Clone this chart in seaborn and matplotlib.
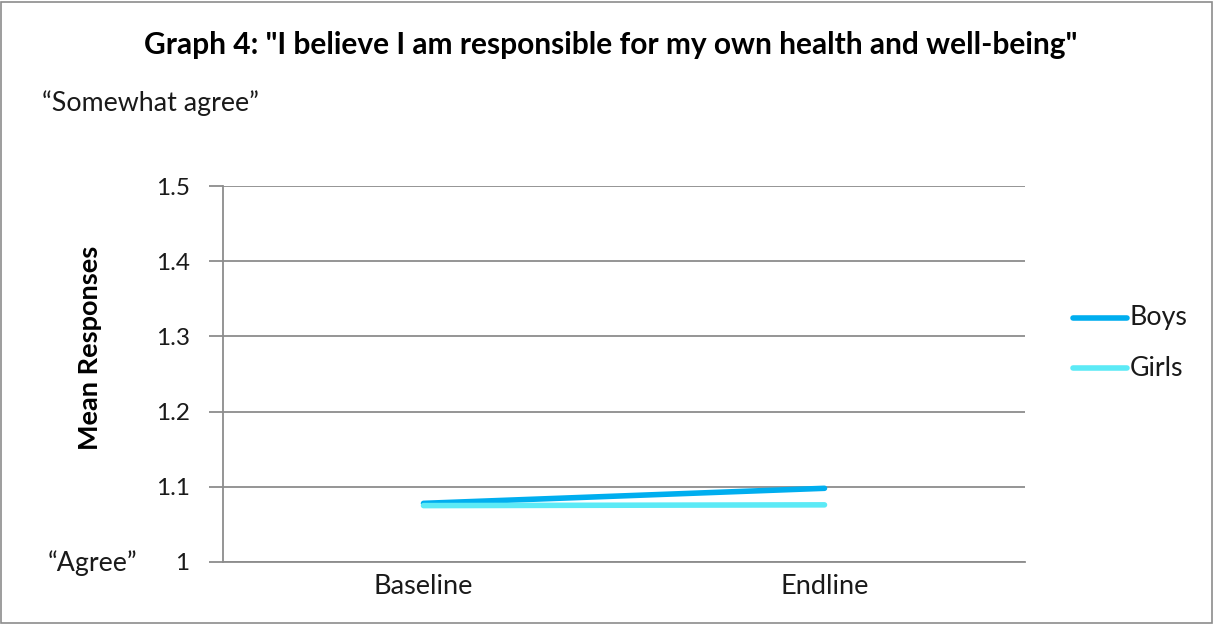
import matplotlib
matplotlib.use("Agg")
import matplotlib.pyplot as plt
import seaborn as sns
import pandas as pd
from matplotlib.patches import Rectangle

# Survey waves and mean responses per group
waves = ["Baseline", "Endline"]
boys = [1.078, 1.098]
girls = [1.075, 1.076]
groups = ["Boys", "Girls"]
y_ticks = [1.0, 1.1, 1.2, 1.3, 1.4, 1.5]
y_tick_labels = ["1", "1.1", "1.2", "1.3", "1.4", "1.5"]

df = pd.DataFrame({
    "wave": waves * 2,
    "mean": boys + girls,
    "group": [groups[0]] * len(waves) + [groups[1]] * len(waves),
})

sns.set_theme(style="white")
plt.rcParams["font.family"] = ["Lato", "DejaVu Sans"]

fig = plt.figure(figsize=(12.14, 6.24), dpi=100)
ax = fig.add_axes([223 / 1214, 1 - 562 / 624, (1025 - 223) / 1214, (562 - 186) / 624])

palette = {"Boys": "#00AEEF", "Girls": "#5CEAF6"}
sns.lineplot(data=df, x="wave", y="mean", hue="group", palette=palette,
             linewidth=4, ax=ax, legend=False, solid_capstyle="round", sort=False)

ax.set_xlim(-0.5, 1.5)
ax.set_ylim(1.0, 1.5)
ax.set_yticks(y_ticks)
ax.set_yticklabels(y_tick_labels, fontsize=17.5, color="#1a1a1a")
ax.set_xticks(range(len(waves)))
ax.set_xticklabels(waves, fontsize=19.5, color="#1a1a1a")
ax.tick_params(axis="y", length=10, width=1.3, color="#8c8c8c", pad=14, left=True)
ax.tick_params(axis="x", length=0, pad=9)
ax.yaxis.grid(True, color="#8c8c8c", linewidth=1.3)
ax.set_axisbelow(True)
for side in ["top", "right"]:
    ax.spines[side].set_visible(False)
for side in ["left", "bottom"]:
    ax.spines[side].set_color("#8c8c8c")
    ax.spines[side].set_linewidth(1.3)
ax.set_xlabel("")
ax.set_ylabel("")

# Legend drawn in figure coordinates
for i, g in enumerate(groups):
    yy = 1 - (318 + 50 * i) / 624
    fig.add_artist(plt.Line2D([1073 / 1214, 1127 / 1214], [yy, yy], color=palette[g],
                              linewidth=4, solid_capstyle="round", transform=fig.transFigure))
    fig.text(1130 / 1214, yy, g, fontsize=19.3, va="center", ha="left", color="#1a1a1a")

fig.text(611 / 1214, 1 - 45 / 624, 'Graph 4: "I believe I am responsible for my own health and well-being"',
         fontsize=21.5, fontweight="bold", ha="center", va="center", color="#000000")
fig.text(42 / 1214, 1 - 103 / 624, "\u201cSomewhat agree\u201d", fontsize=19.3, ha="left", va="center",
         color="#1a1a1a")
fig.text(48 / 1214, 1 - 563 / 624, "\u201cAgree\u201d", fontsize=19.3, ha="left", va="center",
         color="#1a1a1a")
fig.text(90 / 1214, 1 - 348 / 624, "Mean Responses", fontsize=19.5, fontweight="bold",
         rotation=90, ha="center", va="center", color="#000000")

# Chart frame
fig.add_artist(Rectangle((0.001, 0.002), 0.997, 0.995, transform=fig.transFigure,
                         fill=False, edgecolor="#8c8c8c", linewidth=1.2))

fig.savefig("out.png", dpi=100)
